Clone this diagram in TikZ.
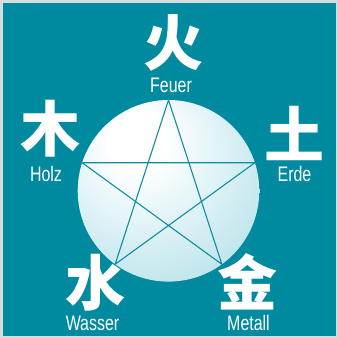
\documentclass[tikz,border=0pt]{standalone}
\usepackage{fontspec}
\usetikzlibrary{calc}
\setmainfont{Liberation Sans}
\newfontfamily\cjk{Noto Sans CJK SC}
\definecolor{bgteal}{RGB}{0,138,160}
\definecolor{frame}{RGB}{215,220,222}
\definecolor{edgeteal}{RGB}{112,194,206}
\definecolor{midteal}{RGB}{170,222,230}
\definecolor{paleteal}{RGB}{222,242,246}
\definecolor{linecol}{RGB}{18,140,160}
\pgfdeclareradialshading{glow}{\pgfpoint{-9.6bp}{15.3bp}}{%
  color(0bp)=(white); color(8bp)=(white); color(22bp)=(paleteal);
  color(44bp)=(midteal); color(66bp)=(edgeteal); color(80bp)=(edgeteal)}
\tikzset{
  hanzi/.style={text=white, inner sep=0pt, anchor=base,
    font=\cjk\bfseries\fontsize{60}{60}\selectfont},
  elabel/.style={text=white, inner sep=0pt, anchor=base,
    font=\fontsize{21}{21}\selectfont},
  starline/.style={draw=linecol, line width=1.1pt, line join=miter}
}
\newcommand{\cond}[1]{\scalebox{0.76}[1]{#1}}
\begin{document}
\begin{tikzpicture}[x=1pt,y=-1pt]
\useasboundingbox (0,0) rectangle (337,338);
\fill[frame] (0,0) rectangle (337,338);
\fill[bgteal] (3,3) rectangle (336,336);
\coordinate (c) at (168.5,190.8);
\shade[shading=glow] (c) circle[radius=90.8];
\foreach \i/\a in {1/90,2/162,3/234,4/306,5/18}{
  \coordinate (p\i) at ($(c)+({90.8*cos(\a)},{-90.8*sin(\a)})$);
}
\draw[starline] (p1) -- (p3) -- (p5) -- (p2) -- (p4) -- cycle;
\node[hanzi] (fire) at (173,65) {火};
\node[hanzi] (wood) at (50,151) {木};
\node[hanzi] (earth) at (294,157) {土};
\node[hanzi] (water) at (95,305) {水};
\node[hanzi] (metal) at (247,305) {金};
\node[elabel] (lfire) at (171,92.5) {\cond{Feuer}};
\node[elabel] (lwood) at (46,181.5) {\cond{Holz}};
\node[elabel] (learth) at (294.5,181) {\cond{Erde}};
\node[elabel] (lwater) at (92.5,330.5) {\cond{Wasser}};
\node[elabel] (lmetal) at (248.5,330.5) {\cond{Metall}};
\end{tikzpicture}
\end{document}
